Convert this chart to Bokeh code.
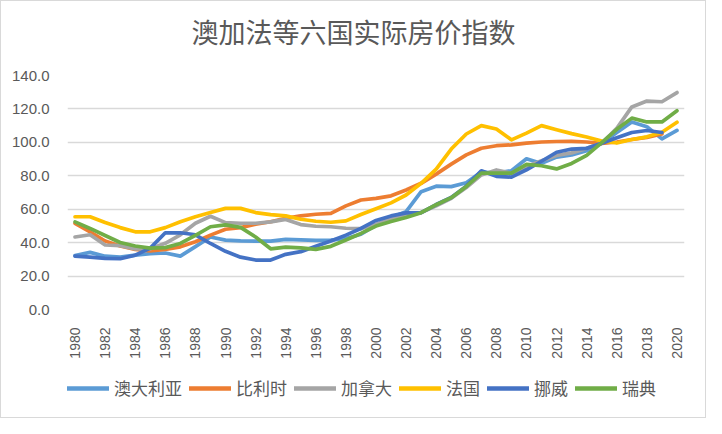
from math import pi
from bokeh.plotting import figure
from bokeh.layouts import column
from bokeh.models import Range1d, FixedTicker, Legend, LegendItem, NumeralTickFormatter, Label
from bokeh.embed import file_html
from bokeh.resources import INLINE

title = "澳加法等六国实际房价指数"
years = list(range(1980, 2021))
tick_years = years[::2]
tick_labels = [str(y) for y in tick_years]
y_ticks = [0, 20, 40, 60, 80, 100, 120, 140]

names = ["澳大利亚", "比利时", "加拿大", "法国", "挪威", "瑞典"]
colors = ["#5B9BD5", "#ED7D31", "#A5A5A5", "#FFC000", "#4472C4", "#70AD47"]

australia = [32.3, 34.2, 31.9, 31.3, 32.5, 33.4, 33.8, 31.9, 37.6, 43.4, 41.5, 41.0, 40.9, 40.9,
             42.0, 41.7, 41.3, 41.5, 42.5, 45.0, 50.5, 55.0, 58.5, 70.5, 73.8, 73.5, 75.8, 82.2,
             81.6, 83.0, 90.2, 87.4, 91.2, 92.5, 95.0, 99.4, 105.9, 112.2, 109.4, 102.1, 107.1]
belgium = [51.5, 46.5, 41.0, 38.0, 36.0, 35.0, 36.0, 37.5, 40.5, 44.5, 48.0, 49.0, 51.0, 52.5,
           54.5, 56.0, 57.0, 57.5, 62.0, 65.5, 66.5, 68.0, 71.5, 75.5, 81.0, 87.0, 92.5, 96.5,
           98.0, 98.5, 99.5, 100.2, 100.5, 100.6, 100.2, 99.4, 100.2, 101.7, 103.0, 105.0]
canada = [43.4, 44.7, 38.6, 38.2, 36.3, 36.3, 39.6, 44.7, 51.6, 55.8, 52.0, 51.6, 51.6, 52.4,
          53.9, 50.8, 49.8, 49.5, 48.6, 48.4, 51.0, 54.0, 56.0, 58.0, 62.0, 66.5, 73.0, 80.5,
          83.5, 81.5, 85.5, 89.0, 92.2, 93.7, 96.4, 99.4, 108.4, 121.2, 124.7, 124.3, 129.8]
france = [55.5, 55.5, 52.0, 49.0, 46.5, 46.5, 49.0, 52.5, 55.5, 58.0, 60.5, 60.5, 58.0, 56.8,
          56.0, 54.0, 52.8, 52.2, 53.0, 56.8, 60.3, 63.8, 68.5, 75.5, 84.0, 96.0, 105.0, 110.0,
          108.0, 101.5, 105.5, 110.0, 107.5, 105.2, 103.2, 100.8, 99.6, 101.7, 103.3, 106.0, 112.0]
norway = [31.9, 31.3, 30.6, 30.4, 32.5, 36.7, 45.9, 45.9, 44.7, 39.5, 34.8, 31.3, 29.6, 29.6,
          33.0, 34.6, 37.8, 41.0, 44.5, 48.5, 53.3, 56.0, 57.8, 58.0, 62.8, 67.0, 73.8, 83.0,
          79.7, 79.2, 83.6, 88.7, 94.1, 96.0, 96.4, 99.4, 102.7, 105.9, 107.1, 105.9]
sweden = [52.4, 48.5, 44.3, 40.1, 38.0, 36.7, 37.0, 39.5, 44.3, 49.5, 50.6, 49.1, 43.4, 36.3,
          37.3, 36.9, 36.0, 37.8, 41.6, 45.5, 49.9, 52.6, 55.0, 57.9, 62.7, 66.9, 73.6, 81.6,
          81.6, 81.6, 86.8, 86.0, 84.1, 87.4, 92.2, 99.8, 107.8, 114.5, 112.2, 112.2, 118.9]
series = [australia, belgium, canada, france, norway, sweden]

LEFT, RIGHT = 66, 21


def blank(fig):
    fig.axis.visible = False
    fig.grid.grid_line_color = None
    fig.outline_line_color = None
    fig.background_fill_color = "white"
    fig.border_fill_color = "white"


# title strip (frame aligned with the chart's frame)
tt = figure(width=704, height=52, output_backend="svg", toolbar_location=None,
            x_range=Range1d(0, 1), y_range=Range1d(0, 1),
            min_border_left=LEFT, min_border_right=RIGHT, min_border_top=0, min_border_bottom=0)
blank(tt)
tt.add_layout(Label(x=352 - LEFT, y=22, x_units="screen", y_units="screen", text=title,
                    text_align="center", text_baseline="middle",
                    text_font="Noto Sans CJK SC", text_font_size="27px",
                    text_color="#595959"))

# main chart
p = figure(width=704, height=308, output_backend="svg", toolbar_location=None,
           x_range=Range1d(1979.5, 2020.5), y_range=Range1d(0, 140),
           min_border_left=LEFT, min_border_right=RIGHT, min_border_top=22, min_border_bottom=51)
p.outline_line_color = None
p.background_fill_color = "white"
p.border_fill_color = "white"

p.xgrid.grid_line_color = None
p.ygrid.grid_line_color = "#D9D9D9"
p.ygrid.grid_line_width = 1.5

xa = p.xaxis[0]
xa.ticker = FixedTicker(ticks=tick_years)
xa.major_label_overrides = {y: l for y, l in zip(tick_years, tick_labels)}
xa.major_label_orientation = pi / 2
xa.axis_line_color = None
xa.major_tick_line_color = None
xa.minor_tick_line_color = None
xa.major_label_standoff = 12
xa.major_label_text_font = "Liberation Sans"
xa.major_label_text_font_size = "14px"
xa.major_label_text_color = "#595959"

ya = p.yaxis[0]
ya.ticker = FixedTicker(ticks=y_ticks)
ya.formatter = NumeralTickFormatter(format="0.0")
ya.axis_line_color = None
ya.major_tick_line_color = None
ya.minor_tick_line_color = None
ya.major_label_standoff = 12
ya.major_label_text_font = "Liberation Sans"
ya.major_label_text_font_size = "15px"
ya.major_label_text_color = "#595959"

# legend strip: same series, drawn out of view, only the legend shows
lg = figure(width=704, height=56, output_backend="svg", toolbar_location=None,
            x_range=Range1d(1979.5, 2020.5), y_range=Range1d(1000, 1001),
            min_border_left=LEFT, min_border_right=RIGHT, min_border_top=0, min_border_bottom=0)
blank(lg)

items = []
for name, color, vals in zip(names, colors, series):
    xs = years[:len(vals)]
    p.line(xs, vals, line_color=color, line_width=3.7,
           line_join="round", line_cap="round")
    r = lg.line(xs, vals, line_color=color, line_width=4.5, line_cap="round")
    items.append(LegendItem(label=name, renderers=[r]))

legend = Legend(items=items, orientation="horizontal", location=(0, 17),
                glyph_width=42, glyph_height=12, label_standoff=5, spacing=7,
                padding=0, margin=0, border_line_color=None, background_fill_alpha=0,
                label_text_font="Noto Sans CJK SC", label_text_font_size="17px",
                label_text_color="#595959")
lg.add_layout(legend, "center")

layout = column(tt, p, lg, spacing=0, styles={"border": "1px solid #D9D9D9"})
open("out.html", "w").write(file_html(layout, INLINE))
